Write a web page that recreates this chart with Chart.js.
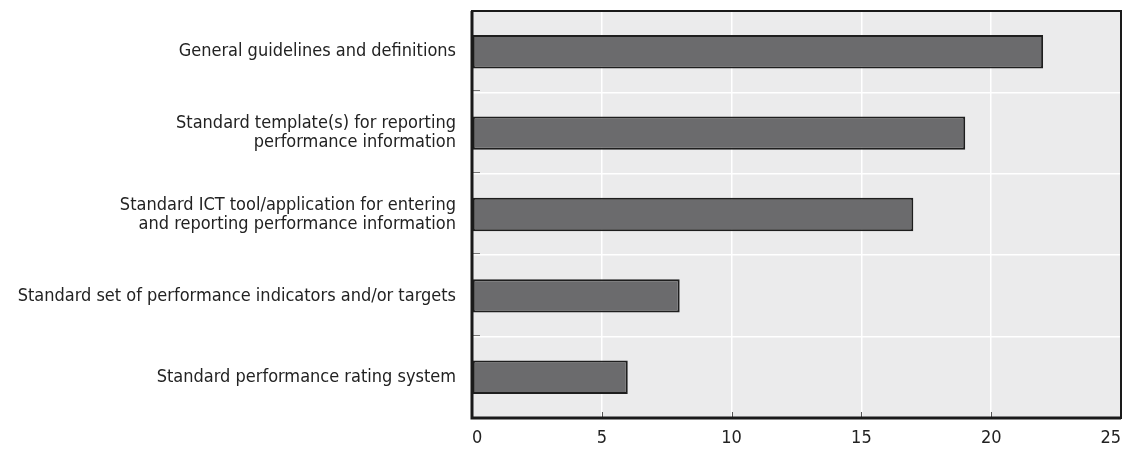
<!DOCTYPE html>
<html>
<head>
<meta charset="utf-8">
<script src="https://cdn.jsdelivr.net/npm/chart.js@4/dist/chart.umd.min.js"></script>
<style>
  html, body { margin: 0; padding: 0; background: #ffffff; }
  #wrap { width: 1126px; height: 450px; }
</style>
</head>
<body>
<div id="wrap"><canvas id="c" width="1126" height="450"></canvas></div>
<script>
const categories = [
  ["General guidelines and definitions"],
  ["Standard template(s) for reporting", "performance information"],
  ["Standard ICT tool/application for entering", "and reporting performance information"],
  ["Standard set of performance indicators and/or targets"],
  ["Standard performance rating system"]
];
const values = [22, 19, 17, 8, 6];
const xTicks = [0, 5, 10, 15, 20, 25];

const FONT = "'Liberation Sans Narrow', 'DejaVu Sans Condensed', 'Roboto Condensed', Arial, sans-serif";

const framePlugin = {
  id: 'frame',
  beforeDraw(chart) {
    const {ctx, chartArea: a} = chart;
    ctx.save();
    ctx.fillStyle = '#ebebec';
    ctx.fillRect(a.left, a.top, a.right - a.left, a.bottom - a.top);
    ctx.restore();
  },
  afterDraw(chart) {
    const {ctx, chartArea: a, scales} = chart;
    ctx.save();
    ctx.strokeStyle = '#555';
    ctx.lineWidth = 1;
    xTicks.forEach(v => {
      if (v === 0 || v === 25) return;
      const x = Math.round(scales.x.getPixelForValue(v)) + 0.5;
      ctx.beginPath();
      ctx.moveTo(x, a.bottom);
      ctx.lineTo(x, a.bottom - 6);
      ctx.stroke();
    });
    ctx.strokeStyle = '#777';
    for (let i = 1; i < categories.length; i++) {
      const y = Math.round((scales.y.getPixelForValue(i - 1) + scales.y.getPixelForValue(i)) / 2) - 1.5;
      ctx.beginPath();
      ctx.moveTo(a.left, y);
      ctx.lineTo(a.left + 8, y);
      ctx.stroke();
    }
    ctx.strokeStyle = '#1a1a1a';
    ctx.lineWidth = 2;
    ctx.strokeRect(a.left, a.top, a.right - a.left, a.bottom - a.top);
    ctx.lineWidth = 3;
    ctx.beginPath();
    ctx.moveTo(a.left, a.top);
    ctx.lineTo(a.left, a.bottom);
    ctx.lineTo(a.right, a.bottom);
    ctx.stroke();
    ctx.restore();
  }
};

new Chart(document.getElementById('c'), {
  type: 'bar',
  data: {
    labels: categories,
    datasets: [{
      data: values,
      backgroundColor: '#6b6b6d',
      borderColor: '#1e1e1e',
      borderWidth: 2,
      borderSkipped: false,
      barPercentage: 0.41,
      categoryPercentage: 1.0
    }]
  },
  options: {
    indexAxis: 'y',
    responsive: false,
    animation: false,
    layout: { padding: { top: 11, right: 5, left: 0, bottom: 0 } },
    plugins: { legend: { display: false }, tooltip: { enabled: false } },
    scales: {
      x: {
        min: 0, max: 25,
        afterBuildTicks(scale) { scale.ticks = xTicks.map(v => ({ value: v })); },
        afterFit(scale) { scale.height = 32; scale.paddingLeft = 0; scale.paddingRight = 0; },
        grid: { color: '#ffffff', lineWidth: 1.5, drawTicks: false },
        border: { display: false },
        ticks: {
          padding: 10,
          align: 'inner',
          color: '#222222',
          font: { family: FONT, size: 18 }
        }
      },
      y: {
        afterFit(scale) { scale.width = 472; scale.paddingTop = 0; scale.paddingBottom = 0; },
        grid: { color: '#ffffff', lineWidth: 1.5, drawTicks: false, offset: true },
        border: { display: false },
        ticks: {
          padding: 16,
          color: '#222222',
          font: { family: FONT, size: 18, lineHeight: 1.05 }
        }
      }
    }
  },
  plugins: [framePlugin]
});
</script>
</body>
</html>
